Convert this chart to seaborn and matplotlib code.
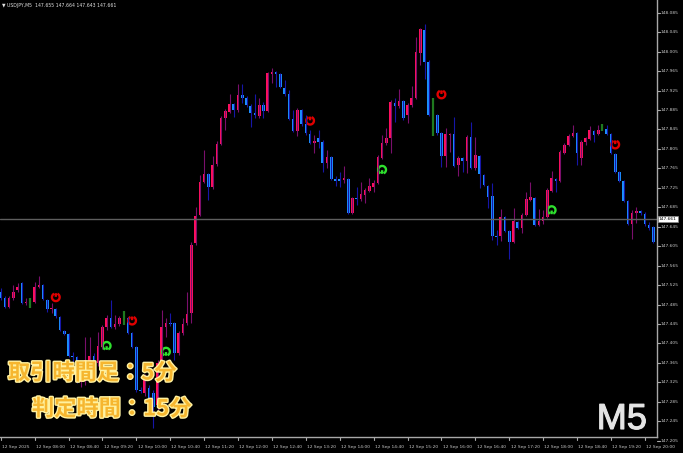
import numpy as np
import pandas as pd
import seaborn as sns
import matplotlib.pyplot as plt
import matplotlib.patheffects as pe
from matplotlib.path import Path
from matplotlib.transforms import blended_transform_factory

# USDJPY M5 bars, 12 Sep 2025
opens = [
    147.511, 147.498, 147.480, 147.498, 147.515, 147.529, 147.488, 147.494, 147.490, 147.521,
    147.525, 147.494, 147.476, 147.476, 147.459, 147.431, 147.424, 147.379, 147.377, 147.326,
    147.334, 147.361, 147.379, 147.365, 147.398, 147.439, 147.457, 147.439, 147.445, 147.457,
    147.457, 147.426, 147.398, 147.309, 147.303, 147.313, 147.303, 147.278, 147.365, 147.439,
    147.447, 147.447, 147.385, 147.426, 147.447, 147.468, 147.611, 147.669, 147.737, 147.753,
    147.727, 147.774, 147.815, 147.868, 147.881, 147.897, 147.885, 147.916, 147.910, 147.893,
    147.879, 147.873, 147.895, 147.883, 147.959, 147.963, 147.959, 147.930, 147.918, 147.866,
    147.842, 147.885, 147.856, 147.836, 147.817, 147.827, 147.819, 147.776, 147.788, 147.743,
    147.743, 147.741, 147.743, 147.673, 147.704, 147.702, 147.710, 147.718, 147.727, 147.735,
    147.786, 147.817, 147.827, 147.899, 147.893, 147.903, 147.875, 147.895, 147.910, 148.002,
    148.049, 147.984, 147.875, 147.875, 147.838, 147.790, 147.833, 147.836, 147.772, 147.786,
    147.780, 147.829, 147.766, 147.790, 147.751, 147.729, 147.708, 147.626, 147.626, 147.665,
    147.636, 147.613, 147.655, 147.642, 147.669, 147.700, 147.704, 147.648, 147.657, 147.665,
    147.718, 147.743, 147.739, 147.796, 147.813, 147.831, 147.838, 147.786, 147.819, 147.825,
    147.842, 147.836, 147.844, 147.846, 147.836, 147.794, 147.757, 147.739, 147.698, 147.650,
    147.673, 147.677, 147.671, 147.648, 147.644,
]
highs = [
    147.519, 147.502, 147.502, 147.525, 147.529, 147.531, 147.498, 147.498, 147.531, 147.544,
    147.527, 147.496, 147.488, 147.478, 147.461, 147.433, 147.426, 147.387, 147.379, 147.356,
    147.418, 147.418, 147.385, 147.428, 147.443, 147.463, 147.494, 147.463, 147.461, 147.472,
    147.459, 147.428, 147.400, 147.315, 147.342, 147.319, 147.309, 147.371, 147.474, 147.457,
    147.468, 147.449, 147.431, 147.457, 147.511, 147.613, 147.685, 147.751, 147.803, 147.755,
    147.790, 147.821, 147.873, 147.887, 147.918, 147.899, 147.938, 147.938, 147.914, 147.897,
    147.918, 147.910, 147.901, 147.963, 147.971, 147.965, 147.961, 147.947, 147.926, 147.885,
    147.889, 147.887, 147.875, 147.844, 147.833, 147.844, 147.823, 147.803, 147.790, 147.749,
    147.757, 147.770, 147.745, 147.706, 147.727, 147.737, 147.725, 147.745, 147.741, 147.792,
    147.833, 147.848, 147.905, 147.910, 147.928, 147.905, 147.899, 147.934, 148.035, 148.053,
    148.062, 147.988, 147.910, 147.877, 147.840, 147.848, 147.838, 147.870, 147.790, 147.788,
    147.833, 147.860, 147.829, 147.792, 147.753, 147.731, 147.735, 147.638, 147.681, 147.667,
    147.638, 147.683, 147.657, 147.673, 147.716, 147.737, 147.706, 147.681, 147.679, 147.725,
    147.759, 147.745, 147.803, 147.817, 147.836, 147.854, 147.840, 147.823, 147.829, 147.852,
    147.844, 147.854, 147.856, 147.854, 147.838, 147.796, 147.759, 147.741, 147.700, 147.679,
    147.685, 147.679, 147.675, 147.655, 147.646,
]
lows = [
    147.494, 147.478, 147.478, 147.494, 147.511, 147.486, 147.484, 147.478, 147.488, 147.519,
    147.494, 147.470, 147.468, 147.457, 147.431, 147.422, 147.377, 147.367, 147.324, 147.315,
    147.319, 147.354, 147.356, 147.359, 147.394, 147.433, 147.437, 147.435, 147.441, 147.443,
    147.424, 147.396, 147.305, 147.303, 147.297, 147.289, 147.231, 147.268, 147.361, 147.418,
    147.441, 147.371, 147.381, 147.422, 147.443, 147.447, 147.607, 147.667, 147.735, 147.700,
    147.722, 147.770, 147.813, 147.844, 147.879, 147.870, 147.881, 147.899, 147.891, 147.850,
    147.868, 147.868, 147.868, 147.881, 147.940, 147.932, 147.930, 147.914, 147.864, 147.840,
    147.831, 147.852, 147.833, 147.815, 147.796, 147.807, 147.757, 147.766, 147.741, 147.729,
    147.727, 147.735, 147.671, 147.671, 147.690, 147.698, 147.694, 147.716, 147.716, 147.733,
    147.784, 147.813, 147.796, 147.860, 147.889, 147.864, 147.858, 147.891, 147.907, 147.977,
    147.949, 147.873, 147.831, 147.833, 147.768, 147.768, 147.799, 147.768, 147.749, 147.757,
    147.755, 147.764, 147.762, 147.725, 147.729, 147.683, 147.618, 147.607, 147.616, 147.634,
    147.579, 147.611, 147.640, 147.632, 147.667, 147.698, 147.646, 147.646, 147.650, 147.663,
    147.716, 147.716, 147.737, 147.794, 147.811, 147.829, 147.772, 147.772, 147.813, 147.823,
    147.819, 147.833, 147.842, 147.833, 147.794, 147.755, 147.737, 147.696, 147.648, 147.620,
    147.653, 147.669, 147.646, 147.638, 147.611,
]
closes = [
    147.498, 147.480, 147.498, 147.511, 147.521, 147.488, 147.490, 147.494, 147.521, 147.525,
    147.496, 147.476, 147.478, 147.461, 147.433, 147.424, 147.379, 147.377, 147.330, 147.346,
    147.371, 147.379, 147.365, 147.400, 147.439, 147.457, 147.439, 147.445, 147.457, 147.457,
    147.426, 147.398, 147.309, 147.307, 147.334, 147.293, 147.274, 147.365, 147.439, 147.447,
    147.445, 147.385, 147.426, 147.445, 147.465, 147.607, 147.667, 147.737, 147.753, 147.727,
    147.772, 147.815, 147.868, 147.883, 147.897, 147.885, 147.916, 147.910, 147.895, 147.879,
    147.875, 147.895, 147.883, 147.961, 147.963, 147.959, 147.932, 147.918, 147.866, 147.842,
    147.885, 147.856, 147.838, 147.817, 147.821, 147.819, 147.776, 147.788, 147.743, 147.739,
    147.739, 147.745, 147.673, 147.704, 147.702, 147.712, 147.720, 147.729, 147.735, 147.788,
    147.817, 147.827, 147.901, 147.893, 147.903, 147.868, 147.895, 147.910, 148.004, 148.051,
    147.984, 147.875, 147.875, 147.838, 147.790, 147.836, 147.836, 147.770, 147.786, 147.780,
    147.829, 147.766, 147.792, 147.753, 147.731, 147.706, 147.626, 147.624, 147.665, 147.636,
    147.613, 147.657, 147.642, 147.669, 147.702, 147.706, 147.648, 147.657, 147.665, 147.720,
    147.745, 147.739, 147.799, 147.813, 147.831, 147.838, 147.796, 147.819, 147.827, 147.844,
    147.833, 147.844, 147.844, 147.836, 147.796, 147.757, 147.739, 147.698, 147.650, 147.673,
    147.677, 147.673, 147.650, 147.642, 147.613,
]

# signal arrows (bar index, price)
buy_bars = [25, 39, 90, 130]
buy_prices = [147.400, 147.388, 147.762, 147.679]
sell_bars = [13, 31, 73, 104, 145]
sell_prices = [147.500, 147.452, 147.863, 147.917, 147.814]

bid = 147.661
header = "USDJPY,M5  147.655 147.664 147.643 147.661"

time_bars = list(range(0, 153, 8))
time_labels = ["12 Sep 2025", "12 Sep 08:00", "12 Sep 08:40", "12 Sep 09:20", "12 Sep 10:00",
               "12 Sep 10:40", "12 Sep 11:20", "12 Sep 12:00", "12 Sep 12:40", "12 Sep 13:20",
               "12 Sep 14:00", "12 Sep 14:40", "12 Sep 15:20", "12 Sep 16:00", "12 Sep 16:40",
               "12 Sep 17:20", "12 Sep 18:00", "12 Sep 18:40", "12 Sep 19:20", "12 Sep 20:00"]
price_ticks = [148.085, 148.045, 148.005, 147.965, 147.925, 147.885, 147.845, 147.805,
               147.765, 147.725, 147.685, 147.645, 147.605, 147.565, 147.525, 147.485,
               147.445, 147.405, 147.365, 147.325, 147.285, 147.245, 147.205]

df = pd.DataFrame({"open": opens, "high": highs, "low": lows, "close": closes})
df["bar"] = np.arange(len(df))

sns.set_theme(style="dark", rc={"axes.facecolor": "black", "figure.facecolor": "black",
                                "savefig.facecolor": "black", "axes.grid": False})
plt.rcParams["font.family"] = ["DejaVu Sans"]

fig = plt.figure(figsize=(6.83, 4.53), dpi=100)
ax = fig.add_axes([0, 16 / 453, 657 / 683, 437 / 453])
ax.set_facecolor("black")

up = df[df.close > df.open]
dn = df[df.close < df.open]
dj = df[df.close == df.open]

ax.vlines(up.bar, up.low, up.high, color="#7a0f6c", lw=0.8)
ax.vlines(dn.bar, dn.low, dn.high, color="#1616a8", lw=0.8)
ax.vlines(dj.bar, dj.low, dj.high, color="#1f7a1f", lw=1.6)
ax.bar(up.bar, np.maximum(up.close - up.open, 0.0022), bottom=up.open,
       width=0.62, color="#ff0f5f", linewidth=0)
ax.bar(dn.bar, np.maximum(dn.open - dn.close, 0.0022), bottom=dn.close,
       width=0.62, color="#1c8eff", linewidth=0)

ax.axhline(bid, color="#5e5e5e", lw=1.0)

# ring-shaped arrows
def ring(gap_top):
    if gap_top:
        arc = Path.arc(115, 425)
        stem = Path([(0, 0.1), (0, 1.05)], [Path.MOVETO, Path.LINETO])
    else:
        arc = Path.arc(-65, 245)
        stem = Path([(0, -0.1), (0, -1.05)], [Path.MOVETO, Path.LINETO])
    return Path.make_compound_path(arc, stem)

sns.scatterplot(x=sell_bars, y=sell_prices, marker=ring(True), s=34, color="#e00000", ax=ax)
sns.scatterplot(x=buy_bars, y=buy_prices, marker=ring(False), s=34, color="#2ee02e", ax=ax)
for coll, col in zip(ax.collections[-2:], ["#e00000", "#2ee02e"]):
    coll.set_facecolor("none")
    coll.set_edgecolor(col)
    coll.set_linewidth(1.7)

ax.set_xlim(-0.165, 154.86)
ax.set_ylim(147.2126, 148.1111)
ax.set_xticks([])
ax.set_yticks([])
ax.set_xlabel("")
ax.set_ylabel("")
for s in ["top", "left"]:
    ax.spines[s].set_visible(False)
for s in ["right", "bottom"]:
    ax.spines[s].set_color("#a8a8a8")
    ax.spines[s].set_linewidth(1.0)

# price scale
ty = blended_transform_factory(ax.transAxes, ax.transData)
for p in price_ticks:
    ax.plot([1.0, 1.0045], [p, p], color="#a8a8a8", lw=0.8, transform=ty, clip_on=False)
    ax.text(1.0058, p, f"{p:.3f}", transform=ty, ha="left", va="center",
            fontsize=3.2, color="#c8c8c8", clip_on=False)
ax.text(1.0025, bid, "147.661", transform=ty, ha="left", va="center", fontsize=3.2,
        color="black", clip_on=False,
        bbox=dict(boxstyle="square,pad=0.25", facecolor="white", edgecolor="#888888", lw=0.5))

# time scale
tx = blended_transform_factory(ax.transData, ax.transAxes)
for b, lab in zip(time_bars, time_labels):
    ax.plot([b, b], [0, -0.007], color="#a8a8a8", lw=0.8, transform=tx, clip_on=False)
    ax.text(b + 0.3, -0.023, lab, transform=tx, ha="left", va="center",
            fontsize=3.2, color="#c8c8c8", clip_on=False)

fig.text(2 / 683, 1 - 5 / 453, "\u25bc " + header, ha="left", va="center",
         fontsize=3.3, color="#e0e0e0")

jp = dict(fontsize=16, fontweight="bold", color="#f6b62f", ha="left", va="center",
          family=["Noto Sans CJK JP", "DejaVu Sans"],
          path_effects=[pe.withStroke(linewidth=2.0, foreground="#fff1a0")])
fig.text(8 / 683, 1 - 373 / 453, "取引時間足：5分", **jp)
fig.text(32 / 683, 1 - 409 / 453, "判定時間：15分", **jp)

fig.text(647 / 683, 1 - 429 / 453, "M5", ha="right", va="baseline", fontsize=26,
         family="Liberation Sans", color="#e4e4e4",
         path_effects=[pe.withStroke(linewidth=0.8, foreground="#e4e4e4")])

fig.savefig("out.png", dpi=100, facecolor="black")
